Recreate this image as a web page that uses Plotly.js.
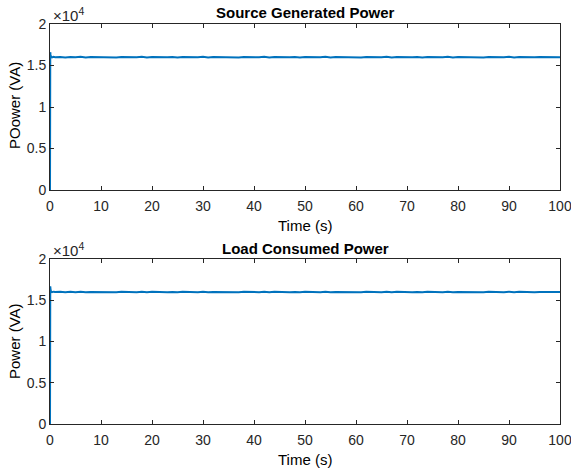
<!DOCTYPE html>
<html><head><meta charset="utf-8">
<script src="https://cdn.plot.ly/plotly-3.0.1.min.js"></script>
<style>html,body{margin:0;padding:0;background:#fff}#c{width:571px;height:470px}</style>
</head><body><div id="c"></div>
<script>
// time samples (s)
const timeStart = [0,0.02,0.05,0.1,0.2,0.4,0.7];
const timeSteady = [
 1,2,3,4,5,6,7,8,9,10,
 11,12,13,14,15,16,17,18,19,20,
 21,22,23,24,25,26,27,28,29,30,
 31,32,33,34,35,36,37,38,39,40,
 41,42,43,44,45,46,47,48,49,50,
 51,52,53,54,55,56,57,58,59,60,
 61,62,63,64,65,66,67,68,69,70,
 71,72,73,74,75,76,77,78,79,80,
 81,82,83,84,85,86,87,88,89,90,
 91,92,93,94,95,96,97,98,99,100];
// source generated power (VA)
const sourceStart = [0,8000,16600,16300,16050,15980,16040];
const sourceSteady = [
 15990,16030,15970,16020,15980,16040,15970,16010,15990,16030,
 15980,16020,15970,16030,15990,16010,15980,16040,15970,16020,
 15990,16030,15980,16010,15970,16030,15990,16020,15980,16040,
 15970,16010,15990,16030,15980,16020,15970,16030,15990,16010,
 15980,16040,15970,16020,15990,16030,15980,16010,15970,16030,
 15990,16020,15980,16040,15970,16010,15990,16030,15980,16020,
 15970,16030,15990,16010,15980,16040,15970,16020,15990,16030,
 15980,16010,15970,16030,15990,16020,15980,16040,15970,16010,
 15990,16030,15980,16020,15970,16030,15990,16010,15980,16040,
 15970,16020,15990,16030,15980,16010,15990,16020,15980,16000];
// load consumed power (VA)
const loadStart = [0,8000,16700,16350,16060,15980,16040];
const loadSteady = [
 15990,16030,15970,16020,15980,16040,15970,16010,15990,16030,
 15980,16020,15970,16030,15990,16010,15980,16040,15970,16020,
 15990,16030,15980,16010,15970,16030,15990,16020,15980,16040,
 15970,16010,15990,16030,15980,16020,15970,16030,15990,16010,
 15980,16040,15970,16020,15990,16030,15980,16010,15970,16030,
 15990,16020,15980,16040,15970,16010,15990,16030,15980,16020,
 15970,16030,15990,16010,15980,16040,15970,16020,15990,16030,
 15980,16010,15970,16030,15990,16020,15980,16040,15970,16010,
 15990,16030,15980,16020,15970,16030,15990,16010,15980,16040,
 15970,16020,15990,16030,15980,16010,15990,16020,15980,16000];
const xTicks = [0,10,20,30,40,50,60,70,80,90,100];
const yTickVals = [0,5000,10000,15000,20000];
const yTickText = ['0','0.5','1','1.5','2'];

const timeS = timeStart.concat(timeSteady);
const sourcePower = sourceStart.concat(sourceSteady);
const loadPower = loadStart.concat(loadSteady);

const F = 'Liberation Sans, Arial, sans-serif';
const axCol = '#262626';
const lineCol = '#0072BD';
function xa(dom, anchor){return {domain:dom, anchor:anchor, range:[0,100], tickvals:xTicks, ticks:'inside', ticklen:4, tickcolor:axCol,
  showline:true, mirror:'ticks', linecolor:axCol, linewidth:1, showgrid:false, zeroline:false, ticklabeloverflow:'allow', ticklabelstandoff:3,
  tickfont:{family:F,size:14,color:axCol}, automargin:false};}
function ya(dom, anchor){return {domain:dom, anchor:anchor, range:[0,20000], tickvals:yTickVals, ticktext:yTickText, ticks:'inside', ticklen:4, tickcolor:axCol,
  showline:true, mirror:'ticks', linecolor:axCol, linewidth:1, showgrid:false, zeroline:false, ticklabeloverflow:'allow',
  tickfont:{family:F,size:14,color:axCol}, automargin:false};}
const W=571,H=470;
const xd=[50/W,560/W];
const yd1=[1-190/H,1-24/H];
const yd2=[1-424/H,1-259/H];
const py = p => 1-p/H;
const xc=(xd[0]+xd[1])/2;
const data=[
 {x:timeS,y:sourcePower,type:'scatter',mode:'lines',line:{color:lineCol,width:2},xaxis:'x',yaxis:'y'},
 {x:timeS,y:loadPower,type:'scatter',mode:'lines',line:{color:lineCol,width:2},xaxis:'x2',yaxis:'y2'}
];
const ann=(text,x,y,opts)=>Object.assign({text:text,xref:'paper',yref:'paper',x:x,y:y,xanchor:'center',yanchor:'middle',showarrow:false,font:{family:F,size:15,color:'#000'}},opts||{});
const layout={width:W,height:H,margin:{l:0,r:0,t:0,b:0},showlegend:false,paper_bgcolor:'#fff',plot_bgcolor:'#fff',
 xaxis:xa(xd,'y'), yaxis:ya(yd1,'x'),
 xaxis2:xa(xd,'y2'), yaxis2:ya(yd2,'x2'),
 annotations:[
  ann('<b>Source Generated Power</b>',xc,py(13)),
  ann('<b>Load Consumed Power</b>',xc,py(248)),
  ann('Time (s)',xc,py(225)),
  ann('Time (s)',xc,py(459)),
  ann('POower (VA)',14/W,py(106),{textangle:-90}),
  ann('Power (VA)',14/W,py(341),{textangle:-90}),
  ann('×10<sup>4</sup>',51/W,py(14),{xanchor:'left',font:{family:F,size:15,color:axCol}}),
  ann('×10<sup>4</sup>',51/W,py(249),{xanchor:'left',font:{family:F,size:15,color:axCol}})
 ]};
Plotly.newPlot('c',data,layout,{displayModeBar:false,staticPlot:true});
</script></body></html>
